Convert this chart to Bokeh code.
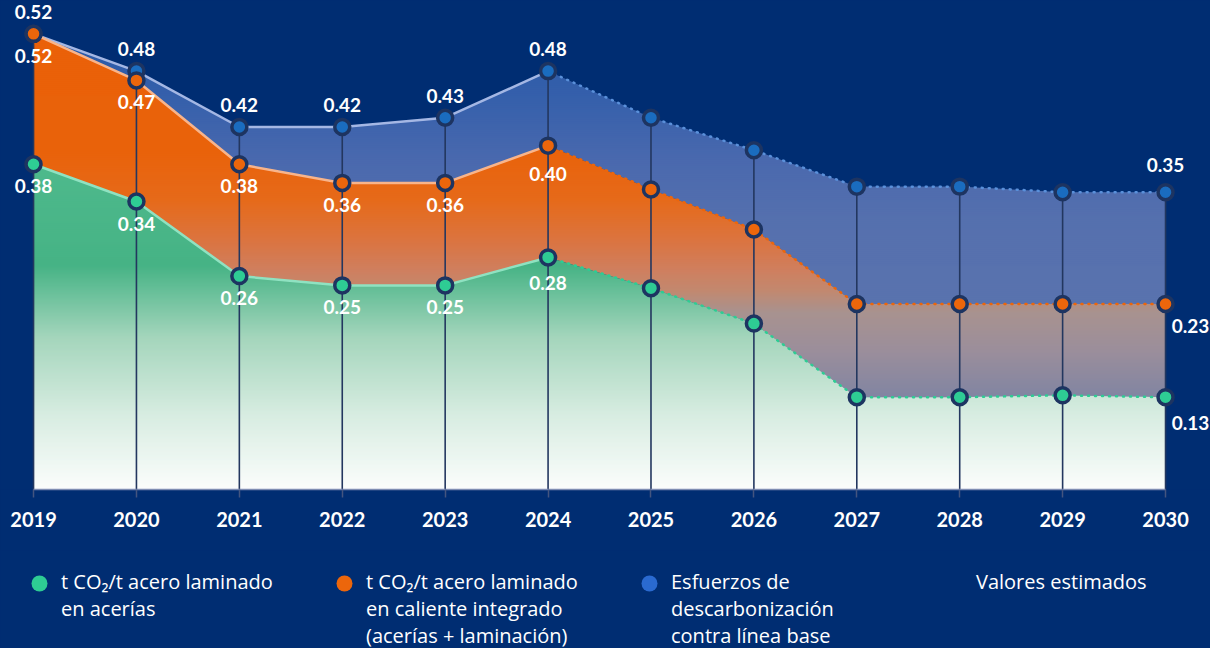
import numpy as np
from bokeh.plotting import figure
from bokeh.layouts import column
from bokeh.models import (FixedTicker, Legend, LegendItem, ColumnDataSource,
                          Range1d, GlobalInlineStyleSheet)
from bokeh.core.properties import value
from bokeh.embed import file_html
from bokeh.resources import INLINE

# ---------------- data ----------------
years = [2019, 2020, 2021, 2022, 2023, 2024, 2025, 2026, 2027, 2028, 2029, 2030]
# t CO2 / t acero laminado en acerías
green_vals = [0.38, 0.34, 0.26, 0.25, 0.25, 0.28, 0.247, 0.209, 0.13, 0.13, 0.132, 0.13]
# t CO2 / t acero laminado en caliente integrado (acerías + laminación)
orange_vals = [0.52, 0.47, 0.38, 0.36, 0.36, 0.40, 0.353, 0.31, 0.23, 0.23, 0.23, 0.23]
# Esfuerzos de descarbonización contra línea base
blue_vals = [0.52, 0.48, 0.42, 0.42, 0.43, 0.48, 0.43, 0.395, 0.356, 0.356, 0.35, 0.35]
labelled_idx = [0, 1, 2, 3, 4, 5, 11]
legend_labels = [
    "t CO\u2082/t acero laminado\nen acerías",
    "t CO\u2082/t acero laminado\nen caliente integrado\n(acerías + laminación)",
    "Esfuerzos de\ndescarbonización\ncontra línea base",
    "Valores estimados",
]

# ---------------- styles ----------------
NAVY = "#002d72"
RING = "#1d3461"
VLINE = "#23375f"
GREEN_M, ORANGE_M, BLUE_M = "#2ecc94", "#ec660b", "#1a6cbf"
GREEN_L, ORANGE_L, BLUE_L = "#8fe2c1", "#f8b48b", "#a4b7e4"
GREEN_D, ORANGE_D, BLUE_D = "#2ecc94", "#ec660b", "#5a90da"
FONT = "Lato"
LEG_FONT = "Open Sans"
W = 1210
CHART_H, LEG_H = 550, 98
FRAME_H = 489
YMIN, YMAX = 0.0309, 0.5558

p = figure(width=W, height=CHART_H, output_backend="svg", toolbar_location=None,
           x_range=Range1d(2018.679, 2030.437), y_range=Range1d(YMIN, YMAX),
           y_axis_location=None, min_border_left=0, min_border_right=0,
           min_border_top=0, min_border_bottom=CHART_H - FRAME_H,
           background_fill_color=NAVY, border_fill_color=NAVY,
           outline_line_color=None)
p.grid.visible = False
p.stylesheets = [GlobalInlineStyleSheet(css="html, body { background-color: #002d72; }")]

base = p.y_range.start

# ---------- vertical colour gradients (stops: pixel row -> colour) ----------
blue_stops = [(40, "#2a5aa8"), (100, "#3660ab"), (160, "#4a69ae"), (220, "#5570ae"),
              (310, "#5a73ae"), (489, "#5c74ae")]
orange_stops = [(40, "#ea6109"), (150, "#e9620a"), (200, "#e66a1a"), (240, "#db7440"),
                (270, "#cf7f5f"), (290, "#c2886f"), (312, "#a8928f"), (350, "#9b8e9b"),
                (410, "#7a82a4"), (489, "#6e7ea8")]
green_stops = [(150, "#4fba8d"), (265, "#46b385"), (337, "#a4d5bc"), (417, "#d9ede2"),
               (489, "#fbfdfc")]


def hex_rgb(h):
    return np.array([int(h[i:i + 2], 16) for i in (1, 3, 5)], dtype=float)


def colour_at(stops, row):
    rows = [s[0] for s in stops]
    cols = np.array([hex_rgb(s[1]) for s in stops])
    rgb = [np.interp(row, rows, cols[:, k]) for k in range(3)]
    return "#%02x%02x%02x" % tuple(int(round(c)) for c in rgb)


def crossings(xv, yv, t):
    out = []
    for i in range(len(xv) - 1):
        a, b = yv[i], yv[i + 1]
        if (a - t) * (b - t) < 0:
            out.append(xv[i] + (t - a) * (xv[i + 1] - xv[i]) / (b - a))
    return out


def gradient_fill(lower, upper, stops, step_px=2):
    """Fill the region between two series with thin horizontal colour bands."""
    per_px = (YMAX - YMIN) / FRAME_H
    step = step_px * per_px
    xs, ys, cs = [], [], []
    t0 = YMIN
    top = max(upper)
    while t0 < top:
        t1 = t0 + step
        t1e = t1 + 0.7 * per_px  # small overlap hides seams
        xr = set(years)
        for series in (lower, upper):
            for t in (t0, t1, t1e):
                xr.update(crossings(years, series, t))
        xr = np.array(sorted(xr))
        lo = np.clip(np.interp(xr, years, lower), t0, t1e)
        up = np.clip(np.interp(xr, years, upper), t0, t1e)
        if np.max(up - lo) > 0:
            xs.append(list(xr) + list(xr[::-1]))
            ys.append(list(up) + list(lo[::-1]))
            row = (YMAX - (t0 + t1) / 2) / per_px
            cs.append(colour_at(stops, row))
        t0 = t1
    p.patches(xs=xs, ys=ys, fill_color=cs, line_color=None)


gradient_fill(orange_vals, blue_vals, blue_stops)
gradient_fill(green_vals, orange_vals, orange_stops)
gradient_fill([base] * len(years), green_vals, green_stops)

# vertical guide lines
p.segment(x0=years, y0=[base] * len(years), x1=years, y1=blue_vals,
          line_color=VLINE, line_width=1.6)

# boundary lines: solid for measured, dotted for estimated
for vals, lc, dc in [(blue_vals, BLUE_L, BLUE_D), (orange_vals, ORANGE_L, ORANGE_D),
                     (green_vals, GREEN_L, GREEN_D)]:
    p.line(years[:6], vals[:6], line_color=lc, line_width=2.5)
    p.line(years[5:], vals[5:], line_color=dc, line_width=2.5,
           line_dash="1 6", line_cap="round")

# markers
for vals, fc in [(blue_vals, BLUE_M), (orange_vals, ORANGE_M), (green_vals, GREEN_M)]:
    p.scatter(years, vals, size=15, fill_color=fc, line_color=RING, line_width=3.5)

# value labels
lx, ly, lt, xo, yo = [], [], [], [], []
for i in labelled_idx:
    last = i == len(years) - 1
    lx.append(years[i]); ly.append(blue_vals[i]); lt.append(f"{blue_vals[i]:.2f}")
    xo.append(0); yo.append(-27 if last else -22)
    lx.append(years[i]); ly.append(orange_vals[i]); lt.append(f"{orange_vals[i]:.2f}")
    xo.append(25 if last else 0); yo.append(28 if i == 5 else 22)
    lx.append(years[i]); ly.append(green_vals[i]); lt.append(f"{green_vals[i]:.2f}")
    xo.append(25 if last else 0); yo.append(26 if (i == 5 or last) else 22)
lsrc = ColumnDataSource(dict(x=lx, y=ly, text=lt, xo=xo, yo=yo))
p.text(x="x", y="y", text="text", source=lsrc, x_offset="xo", y_offset="yo",
       text_align="center", text_baseline="middle", text_color="white",
       text_font=value(FONT), text_font_style="bold", text_font_size="19px")

# x axis
ax = p.xaxis[0]
ax.ticker = FixedTicker(ticks=years)
ax.bounds = (years[0], years[-1])
ax.axis_line_color = "#7f8db3"
ax.axis_line_width = 1.5
ax.major_tick_line_color = "#44557f"
ax.major_tick_line_width = 1.5
ax.major_tick_in = 0
ax.major_tick_out = 8
ax.minor_tick_line_color = None
ax.major_label_standoff = 14
ax.major_label_text_color = "white"
ax.major_label_text_font = FONT
ax.major_label_text_font_style = "bold"
ax.major_label_text_font_size = "20px"

# ---------------- legend strip ----------------
lg = figure(width=W, height=LEG_H, output_backend="svg", toolbar_location=None,
            x_range=Range1d(0, 1), y_range=Range1d(0, 1),
            x_axis_location=None, y_axis_location=None, min_border=0,
            background_fill_color=NAVY, border_fill_color=NAVY,
            outline_line_color=None)
lg.grid.visible = False
# legend swatches reuse the series (they fall outside this strip's ranges)
r_g = lg.scatter(x=years, y=green_vals, marker="circle", fill_color=GREEN_M, line_color=None)
r_o = lg.scatter(x=years, y=orange_vals, marker="circle", fill_color=ORANGE_M, line_color=None)
r_b = lg.scatter(x=years, y=blue_vals, marker="circle", fill_color="#2a6ad0", line_color=None)
r_e = lg.line(x=years, y=blue_vals, line_alpha=0)

common = dict(orientation="horizontal", glyph_width=40, glyph_height=40,
              label_standoff=2, label_width=263, spacing=0, padding=0, margin=0,
              background_fill_alpha=0, border_line_color=None,
              label_text_color="white", label_text_font=LEG_FONT,
              label_text_font_size="20px", label_text_line_height=1.3)

# texts (top aligned by padding every label to the same number of lines)
n_lines = max(lab.count("\n") + 1 for lab in legend_labels)
padded = [lab + "\n\u00a0" * (n_lines - lab.count("\n") - 1) for lab in legend_labels]
text_legend = Legend(items=[LegendItem(label=lab, renderers=[r_e]) for lab in padded],
                     location=(19, -1), **common)
# swatches, level with the first text line
dot_legend = Legend(items=[LegendItem(label="", renderers=[r]) for r in (r_g, r_o, r_b)],
                    location=(19, 45), **common)
lg.add_layout(text_legend, "center")
lg.add_layout(dot_legend, "center")

layout = column(p, lg, spacing=0)
open("out.html", "w").write(file_html(layout, INLINE))
